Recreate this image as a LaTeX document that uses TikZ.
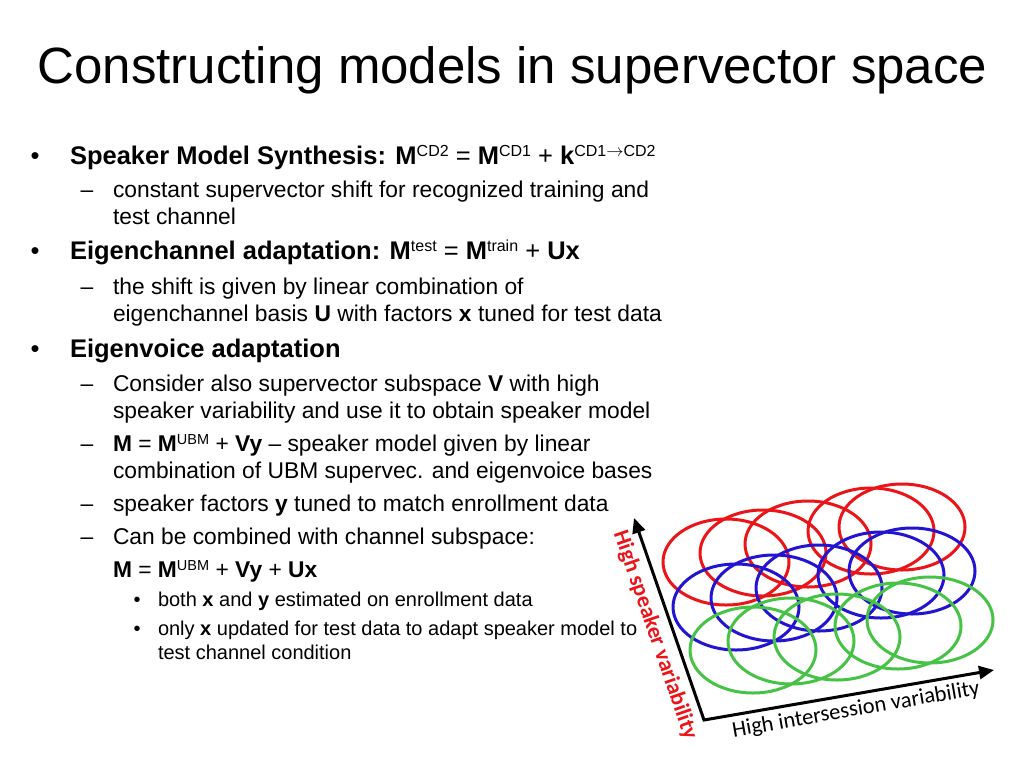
\documentclass[tikz,border=0pt]{standalone}
\usepackage{fontspec}
\setmainfont{Liberation Sans}
\newfontfamily\calib{Carlito}
\usetikzlibrary{arrows.meta}
\definecolor{ellred}{RGB}{235,20,25}
\definecolor{ellblue}{RGB}{35,20,210}
\definecolor{ellgreen}{RGB}{70,195,70}
\definecolor{labred}{RGB}{235,20,25}
\newcommand\supA[1]{\raisebox{7.5pt}{\fontsize{16}{16}\selectfont\mdseries #1}}
\newcommand\supB[1]{\raisebox{7pt}{\fontsize{14.5}{14.5}\selectfont\mdseries #1}}
\tikzset{
  txt/.style={anchor=base west, inner sep=0pt, outer sep=0pt},
  mk/.style={anchor=base, inner sep=0pt, outer sep=0pt},
  lvA/.style={font=\fontsize{25.5}{30}\selectfont},
  lvB/.style={font=\fontsize{22.8}{27}\selectfont},
  lvC/.style={font=\fontsize{20}{24}\selectfont},
  ell/.style={line width=3pt},
  axis/.style={line width=3pt, line join=miter, {Triangle[length=15pt,width=13pt]}-{Triangle[length=15pt,width=13pt]}},
}
\begin{document}
\begin{tikzpicture}[x=1pt,y=-1pt]
\useasboundingbox[fill=white] (0,0) rectangle (1024,768);
% title
\node[mk, font=\fontsize{51}{60}\selectfont] (title) at (512.5,83.5) {Constructing models in supervector space};
% level 1
\node[mk,lvA] (b1) at (35,164) {•};
\node[txt,lvA] (t1) at (70,164) {\textbf{Speaker Model Synthesis: M}\supA{CD2} = \textbf{M}\supA{CD1} + \textbf{k}\supA{CD1$\rightarrow$CD2}};
\node[mk,lvB] (d1) at (87,197) {–};
\node[txt,lvB] (t2) at (113,197) {constant supervector shift for recognized training and};
\node[txt,lvB] (t3) at (113,224) {test channel};
\node[mk,lvA] (b2) at (35,259) {•};
\node[txt,lvA] (t4) at (70,259) {\textbf{Eigenchannel adaptation: M}\supA{test} = \textbf{M}\supA{train} + \textbf{Ux}};
\node[mk,lvB] (d2) at (87,294) {–};
\node[txt,lvB] (t5) at (113,294) {the shift is given by linear combination of};
\node[txt,lvB] (t6) at (113,321) {eigenchannel basis \textbf{U} with factors \textbf{x} tuned for test data};
\node[mk,lvA] (b3) at (35,357) {•};
\node[txt,lvA] (t7) at (70,357) {\textbf{Eigenvoice adaptation}};
\node[mk,lvB] (d3) at (87,391) {–};
\node[txt,lvB] (t8) at (113,391) {Consider also supervector subspace \textbf{V} with high};
\node[txt,lvB] (t9) at (113,418) {speaker variability and use it to obtain speaker model};
\node[mk,lvB] (d4) at (87,451) {–};
\node[txt,lvB] (t10) at (113,451) {\textbf{M} = \textbf{M}\supB{UBM} + \textbf{Vy} – speaker model given by linear};
\node[txt,lvB] (t11) at (113,478) {combination of UBM supervec. and eigenvoice bases};
\node[mk,lvB] (d5) at (87,511) {–};
\node[txt,lvB] (t12) at (113,511) {speaker factors \textbf{y} tuned to match enrollment data};
\node[mk,lvB] (d6) at (87,544) {–};
\node[txt,lvB] (t13) at (113,544) {Can be combined with channel subspace:};
\node[txt,lvB] (t14) at (113,577) {\textbf{M} = \textbf{M}\supB{UBM} + \textbf{Vy} + \textbf{Ux}};
\node[mk,lvC] (c1) at (137,606) {•};
\node[txt,lvC] (t15) at (158,606) {both \textbf{x} and \textbf{y} estimated on enrollment data};
\node[mk,lvC] (c2) at (137,635) {•};
\node[txt,lvC] (t16) at (158,635) {only \textbf{x} updated for test data to adapt speaker model to};
\node[txt,lvC] (t17) at (158,659) {test channel condition};
% ellipses
\foreach \cx/\cy in {726/562, 763/553, 808/544, 871/531, 902/527}
  \draw[ell, ellred] (\cx,\cy) ellipse [x radius=63, y radius=43];
\foreach \cx/\cy in {736/607, 774/598, 819/588, 881/575, 912/571}
  \draw[ell, ellblue] (\cx,\cy) ellipse [x radius=63, y radius=43];
\foreach \cx/\cy in {753/650, 791/641, 837/637, 898/626, 930/620}
  \draw[ell, ellgreen] (\cx,\cy) ellipse [x radius=63, y radius=43];
% axes
\coordinate (O) at (704,720);
\coordinate (Ytip) at (634,518);
\coordinate (Xtip) at (994,670);
\draw[axis] (Ytip) -- (O) -- (Xtip);
\node[rotate=-71, text=labred, font=\calib\bfseries\fontsize{22.5}{26}\selectfont, inner sep=0pt] (ylab) at (655,635) {High speaker variability};
\node[rotate=9.8, font=\calib\fontsize{22.5}{26}\selectfont, inner sep=0pt] (xlab) at (856,710) {High intersession variability};
\end{tikzpicture}
\end{document}
